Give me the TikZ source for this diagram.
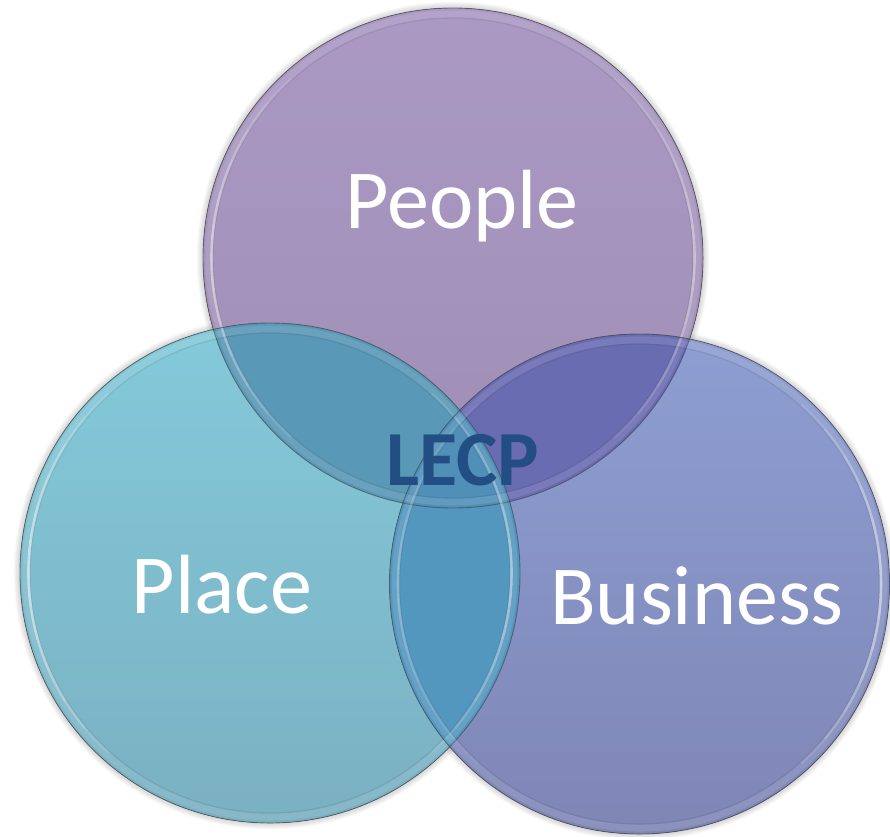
\documentclass[tikz,border=0pt]{standalone}
\usepackage{fontspec}
\setmainfont{Carlito}

% circle fills (top / bottom of each vertical gradient)
\definecolor{pplT}{RGB}{171,153,196}
\definecolor{pplB}{RGB}{158,142,180}
\definecolor{plcT}{RGB}{132,202,218}
\definecolor{plcB}{RGB}{122,176,194}
\definecolor{busT}{RGB}{142,158,210}
\definecolor{busB}{RGB}{126,134,182}
% overlap regions
\definecolor{ppl-plc}{RGB}{90,152,183}
\definecolor{ppl-bus}{RGB}{106,108,178}
\definecolor{plc-bus}{RGB}{84,151,190}
\definecolor{allthree}{RGB}{80,144,184}
\definecolor{lecpblue}{RGB}{34,78,132}

\tikzset{
  lbl/.style={text=white, font=\fontsize{84}{100}\selectfont, inner sep=0pt, anchor=base},
  core/.style={text=lecpblue, font=\fontsize{78}{94}\selectfont\bfseries, inner sep=0pt, anchor=base},
  outline/.style={draw=black!75, draw opacity=0.6, line width=0.9pt},
}

% soft shadow under one disc
\newcommand\discshadow[1]{%
  \foreach \k in {1,...,7}{
    \fill[black, opacity=0.022, shift={(0,3)}] (#1) circle ({250+\k*0.9});
  }%
}
% glass rim of one disc: centre, left glow strength, right glow strength
\newcommand\discrim[3]{%
  \draw[white, opacity=0.10, line width=7pt] (#1) circle (244);
  \draw[black, opacity=0.07, line width=1.4pt] (#1) circle (240);
  \foreach \s in {8,16,...,48}{
    \draw[white, opacity=#2/6, line width=2.6pt]
      (#1) ++(180-\s:241.5) arc[start angle=180-\s, end angle=180+\s, radius=241.5];
    \draw[white, opacity=#3/6, line width=2.6pt]
      (#1) ++(-\s:241.5) arc[start angle=-\s, end angle=\s, radius=241.5];
  }%
  \draw[outline] (#1) circle (250);
}

\begin{document}
\begin{tikzpicture}[x=1pt,y=-1pt]
\useasboundingbox (0,0) rectangle (890,836);

\coordinate (cPeople)   at (453,258);
\coordinate (cPlace)    at (270,573);
\coordinate (cBusiness) at (639.5,584);

% shadows
\discshadow{cPeople}
\discshadow{cPlace}
\discshadow{cBusiness}

% discs
\fill[top color=pplT, bottom color=pplB] (cPeople) circle (250);
\fill[top color=plcT, bottom color=plcB] (cPlace) circle (250);
\fill[top color=busT, bottom color=busB] (cBusiness) circle (250);

% pairwise overlaps
\begin{scope}
  \clip (cPeople) circle (250);
  \fill[ppl-plc] (cPlace) circle (250);
\end{scope}
\begin{scope}
  \clip (cPeople) circle (250);
  \fill[ppl-bus] (cBusiness) circle (250);
\end{scope}
\begin{scope}
  \clip (cPlace) circle (250);
  \fill[plc-bus] (cBusiness) circle (250);
\end{scope}
% centre overlap
\begin{scope}
  \clip (cPeople) circle (250);
  \clip (cPlace) circle (250);
  \fill[allthree] (cBusiness) circle (250);
\end{scope}

% rims
\discrim{cPeople}{0.6}{0.45}
\discrim{cPlace}{0.7}{0.55}
\discrim{cBusiness}{0.3}{0.65}

% labels
\node[lbl]  (tPeople)   at (462,228) {People};
\node[lbl]  (tPlace)    at (222,613) {Place};
\node[lbl]  (tBusiness) at (697,624) {Business};
\node[core] (tLECP)     at (463,485) {LECP};
\end{tikzpicture}
\end{document}
